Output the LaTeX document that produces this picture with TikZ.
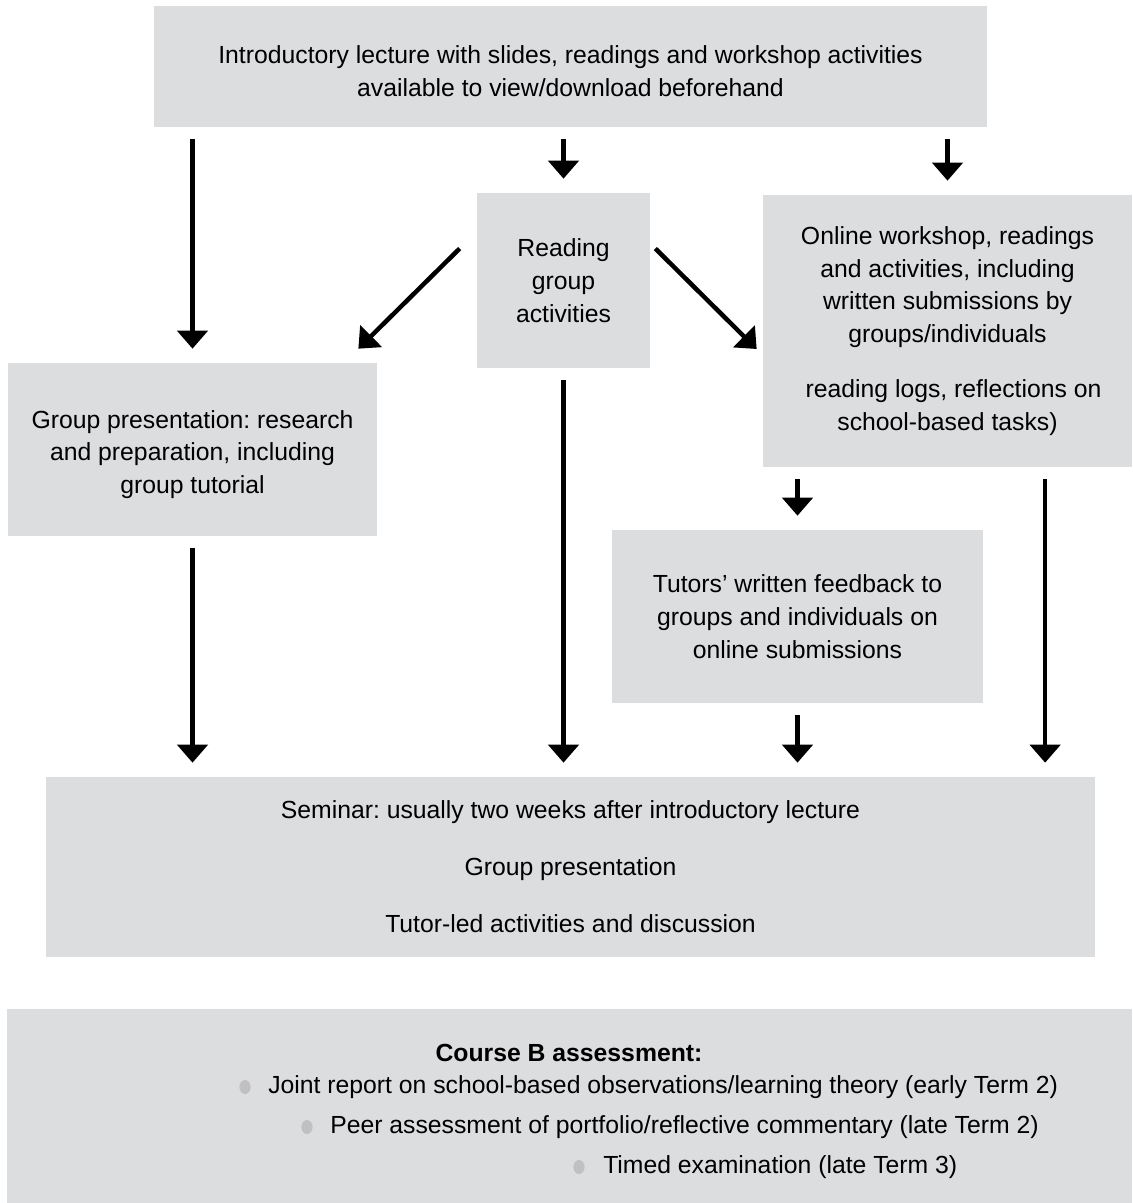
\documentclass[tikz,border=0pt]{standalone}
\usepackage{fontspec}
\setmainfont{Liberation Sans}
\frenchspacing
\usetikzlibrary{arrows.meta}
\definecolor{boxgray}{RGB}{220,221,223}
\definecolor{dotgray}{RGB}{192,192,194}
\newcommand{\topgap}{\rule{0pt}{0.7cm}}
\tikzset{
  box/.style={fill=boxgray, align=center, inner sep=0pt, font=\fontsize{17.6}{23.4}\selectfont},
  txt/.style={inner sep=0pt, font=\fontsize{17.6}{23.4}\selectfont},
  arr/.style={line width=3.2pt, -{Triangle[width=0.75cm,length=0.45cm]}},
  spaced/.style={shorten <=0.3cm, shorten >=0.35cm}
}
\begin{document}
\begin{tikzpicture}[x=0.025cm, y=-0.025cm]
    \useasboundingbox (0,0) rectangle (1132,1203);
    % boxes
    \node[box, minimum width=20.825cm, minimum height=3.025cm] (intro) at (570.5,66.5)
    {\topgap Introductory lecture with slides, readings and workshop activities\\available to view/download beforehand};
    \node[box, minimum width=4.325cm, minimum height=4.375cm] (rg) at (563.5,280.5)
    {Reading\\group\\activities};
    \node[box, minimum width=9.225cm, minimum height=6.8cm] (ol) at (947.5,331)
    {Online workshop, readings\\and activities, including\\written submissions by\\groups/individuals\\[0.55cm]\hspace{0.3cm}reading logs, reflections on\\school-based tasks)};
    \node[box, minimum width=9.225cm, minimum height=4.325cm] (gp) at (192.5,449.5)
    {\topgap Group presentation: research\\and preparation, including\\group tutorial};
    \node[box, minimum width=9.275cm, minimum height=4.325cm] (tf) at (797.5,616.5)
    {Tutors' written feedback to\\groups and individuals on\\online submissions};
    \node[box, minimum width=26.225cm, minimum height=4.5cm] (sem) at (570.5,867)
    {Seminar: usually two weeks after introductory lecture\\[0.6cm]Group presentation\\[0.6cm]Tutor-led activities and discussion};
    % assessment panel
    \node[box, minimum width=28.125cm, minimum height=4.85cm] (asm) at (569.5,1106) {};
    \node[txt, font=\fontsize{17.6}{23.4}\selectfont\bfseries] (asmhead) at (569,1053) {Course B assessment:};
    \node[txt, anchor=west] (jr) at (268,1087) {Joint report on school-based observations/learning theory (early Term 2)};
    \node[txt, anchor=west] (pa) at (330,1127) {Peer assessment of portfolio/reflective commentary (late Term 2)};
    \node[txt, anchor=west] (te) at (603,1167) {Timed examination (late Term 3)};
    \fill[dotgray] (245,1087) ellipse (0.14cm and 0.175cm);
    \fill[dotgray] (307,1127) ellipse (0.14cm and 0.175cm);
    \fill[dotgray] (579,1167) ellipse (0.14cm and 0.175cm);
    % arrows
    \draw[arr, spaced] (intro.south -| gp.north) -- (gp.north);
    \draw[arr, spaced] (intro.south -| rg.north) -- (rg.north);
    \draw[arr, spaced] (intro.south -| ol.north) -- (ol.north);
    \draw[arr] ([shift={(-17,-32)}]rg.west) -- ([shift={(-19,-14)}]gp.north east);
    \draw[arr] ([shift={(5,-32)}]rg.east) -- ([shift={(-6,18)}]ol.west);
    \draw[arr, spaced] (rg.south) -- (rg.south |- sem.north);
    \draw[arr, spaced] (gp.south) -- (gp.south |- sem.north);
    \draw[arr, spaced] (ol.south -| tf.north) -- (tf.north);
    \draw[arr, spaced] (tf.south) -- (tf.south |- sem.north);
    \coordinate (olr) at ([xshift=2.44cm]ol.south);
    \draw[arr, spaced] (olr) -- (olr |- sem.north);
\end{tikzpicture}
\end{document}
